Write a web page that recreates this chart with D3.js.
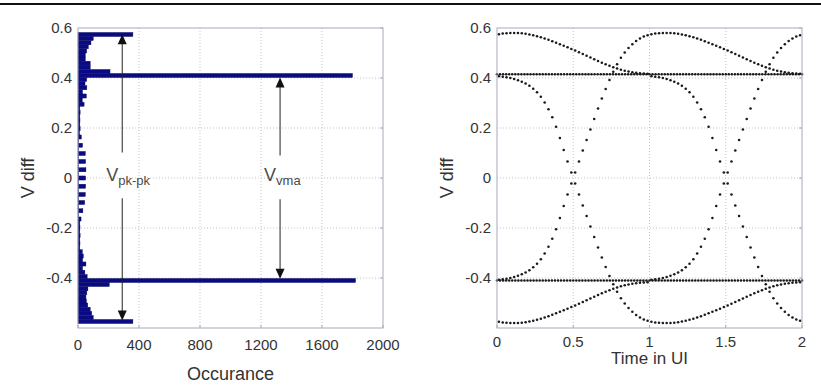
<!DOCTYPE html>
<html>
<head>
<meta charset="utf-8">
<script src="https://cdn.jsdelivr.net/npm/d3@7/dist/d3.min.js"></script>
<style>
  body { margin: 0; background: #fff; }
  text { font-family: "Liberation Sans", Arial, sans-serif; }
</style>
</head>
<body>
<svg id="chart" width="821" height="386"></svg>
<script>
// ---- data: histogram of V diff (left) ----
const binWidth = 0.0164;
const binCenters = [
  -0.574, -0.558, -0.541, -0.525, -0.508, -0.492, -0.476, -0.459, -0.443, -0.426,
  -0.410, -0.394, -0.377, -0.361, -0.344, -0.328, -0.312, -0.295, -0.279, -0.262,
  -0.246, -0.230, -0.213, -0.197, -0.180, -0.164, -0.148, -0.131, -0.115, -0.098,
  -0.082, -0.066, -0.049, -0.033, -0.016, 0,
  0.016, 0.033, 0.049, 0.066, 0.082, 0.098, 0.115, 0.131, 0.148, 0.164,
  0.180, 0.197, 0.213, 0.230, 0.246, 0.262, 0.279, 0.295, 0.312, 0.328,
  0.344, 0.361, 0.377, 0.394, 0.410, 0.426, 0.443, 0.459, 0.476, 0.492,
  0.508, 0.525, 0.541, 0.558, 0.574
];
const binCounts = [
  360, 100, 90, 80, 64, 55, 52, 58, 65, 205,
  1820, 60, 45, 30, 52, 30, 35, 28, 12, 13,
  12, 14, 12, 13, 12, 20, 4, 32, 4, 44,
  4, 48, 4, 50, 4, 50,
  4, 52, 4, 50, 4, 48, 4, 30, 4, 22,
  10, 14, 12, 13, 12, 14, 12, 40, 28, 55,
  30, 58, 46, 57, 1800, 210, 80, 80, 48, 48,
  57, 68, 85, 100, 360
];

// ---- data: eye diagram (right) ----
// rising edge, 40 samples per UI, from 0.5 UI before to 1.5 UI after the zero crossing
const samplesPerUI = 40;
const riseEdge = [
  -0.407, -0.405, -0.403, -0.400, -0.396, -0.391, -0.385, -0.378, -0.369, -0.357,
  -0.343, -0.325, -0.302, -0.275, -0.243, -0.205, -0.160, -0.112, -0.066, -0.022,
  0.022, 0.066, 0.110, 0.152, 0.194, 0.236, 0.278, 0.318, 0.356, 0.392,
  0.425, 0.455, 0.481, 0.502, 0.520, 0.535, 0.548, 0.558, 0.566, 0.571,
  0.575, 0.578, 0.579, 0.580, 0.580, 0.580, 0.579, 0.577, 0.574, 0.571,
  0.567, 0.563, 0.558, 0.553, 0.547, 0.541, 0.535, 0.529, 0.523, 0.516,
  0.510, 0.503, 0.496, 0.489, 0.482, 0.475, 0.468, 0.461, 0.455, 0.449,
  0.443, 0.438, 0.433, 0.429, 0.426, 0.423, 0.421, 0.419, 0.418, 0.417
];
const crossings = [-0.5, 0.5, 1.5];     // zero crossings in UI
const settledLevels = [0.415, -0.41];   // flat high / low traces

// ---- axes ticks ----
const vTicks = [-0.4, -0.2, 0, 0.2, 0.4, 0.6];
const countTicks = [0, 400, 800, 1200, 1600, 2000];
const timeTicks = [0, 0.5, 1, 1.5, 2];

const svg = d3.select("#chart");
const plotTop = 28, plotBottom = 328;
const boxColor = "#a9a9bb", gridColor = "#c4c4c4", textColor = "#333";

// top rule
svg.append("line")
  .attr("x1", 0).attr("x2", 821).attr("y1", 4).attr("y2", 4)
  .attr("stroke", "#111").attr("stroke-width", 2);

const y = d3.scaleLinear().domain([-0.6, 0.6]).range([plotBottom, plotTop]);

function frame(g, x, xTicks, tickBaseline) {
  const [x0, x1] = x.range();
  // dotted grid
  g.append("g").selectAll("line").data(xTicks.slice(1, -1)).join("line")
    .attr("x1", d => x(d)).attr("x2", d => x(d)).attr("y1", plotTop).attr("y2", plotBottom)
    .attr("stroke", gridColor).attr("stroke-dasharray", "1,2");
  g.append("g").selectAll("line").data(vTicks.slice(0, -1)).join("line")
    .attr("x1", x0).attr("x2", x1).attr("y1", d => y(d)).attr("y2", d => y(d))
    .attr("stroke", gridColor).attr("stroke-dasharray", "1,2");
  // tick labels (plain hyphen minus, as in the original)
  g.append("g").selectAll("text").data(vTicks).join("text")
    .attr("x", x0 - 6).attr("y", d => y(d)).attr("dy", "0.36em")
    .attr("text-anchor", "end").attr("font-size", 15).attr("fill", textColor)
    .text(d => String(d));
  g.append("g").selectAll("text").data(xTicks).join("text")
    .attr("x", d => x(d)).attr("y", tickBaseline)
    .attr("text-anchor", "middle").attr("font-size", 15).attr("fill", textColor)
    .text(d => String(d));
  // y label
  g.append("text")
    .attr("transform", `translate(${x0 - 50},${(plotTop + plotBottom) / 2}) rotate(-90)`)
    .attr("dy", "0.35em")
    .attr("text-anchor", "middle").attr("font-size", 18).attr("fill", textColor)
    .text("V diff");
}

function box(g, x, xTicks) {
  const [x0, x1] = x.range();
  g.append("rect")
    .attr("x", x0).attr("y", plotTop).attr("width", x1 - x0).attr("height", plotBottom - plotTop)
    .attr("fill", "none").attr("stroke", boxColor);
  // inward ticks
  g.append("g").selectAll("line").data(vTicks).join("line")
    .attr("x1", x1).attr("x2", x1 - 3).attr("y1", d => y(d)).attr("y2", d => y(d))
    .attr("stroke", boxColor);
  g.append("g").selectAll("line").data(xTicks).join("line")
    .attr("x1", d => x(d)).attr("x2", d => x(d)).attr("y1", plotBottom).attr("y2", plotBottom - 3)
    .attr("stroke", boxColor);
}

// ===== left: histogram =====
const xL = d3.scaleLinear().domain([0, 2000]).range([78, 383]);
const gL = svg.append("g");
frame(gL, xL, countTicks, 350);

gL.append("g").selectAll("rect").data(binCenters).join("rect")
  .attr("x", xL(0))
  .attr("y", d => y(d + binWidth / 2))
  .attr("width", (d, i) => xL(binCounts[i]) - xL(0))
  .attr("height", d => y(d - binWidth / 2) - y(d + binWidth / 2))
  .attr("fill", "#0a0a82")
  .attr("stroke", "#0a0a60").attr("stroke-width", 0.4);

gL.append("text")
  .attr("x", (xL.range()[0] + xL.range()[1]) / 2).attr("y", 380)
  .attr("text-anchor", "middle").attr("font-size", 18).attr("fill", textColor)
  .text("Occurance");

// annotation arrows
const arrows = [
  { x: 290, from: 0.575, to: -0.570, labelAt: 0, gapTop: 0.102, gapBottom: -0.081, main: "V", sub: "pk-pk" },
  { x: 1325, from: 0.402, to: -0.403, labelAt: 0, gapTop: 0.09, gapBottom: -0.085, main: "V", sub: "vma" }
];
arrows.forEach(a => {
  const ax = xL(a.x);
  gL.append("line").attr("x1", ax).attr("x2", ax)
    .attr("y1", y(a.from) + 9).attr("y2", y(a.gapTop))
    .attr("stroke", "#222").attr("stroke-width", 1);
  gL.append("line").attr("x1", ax).attr("x2", ax)
    .attr("y1", y(a.gapBottom)).attr("y2", y(a.to) - 9)
    .attr("stroke", "#222").attr("stroke-width", 1);
  const yt = y(a.from), yb = y(a.to);
  gL.append("path").attr("d", `M${ax},${yt} L${ax - 4.5},${yt + 10} L${ax + 4.5},${yt + 10} Z`).attr("fill", "#111");
  gL.append("path").attr("d", `M${ax},${yb} L${ax - 4.5},${yb - 10} L${ax + 4.5},${yb - 10} Z`).attr("fill", "#111");
  const t = gL.append("text")
    .attr("x", ax - 16).attr("y", y(a.labelAt) + 3)
    .attr("font-size", 18).attr("fill", "#4a4a4a");
  t.append("tspan").text(a.main);
  t.append("tspan").attr("font-size", 13).attr("dy", 4).text(a.sub);
});

box(gL, xL, countTicks);

// ===== right: eye diagram =====
const xR = d3.scaleLinear().domain([0, 2]).range([497, 802]);
const gR = svg.append("g");
frame(gR, xR, timeTicks, 347);

gR.append("text")
  .attr("x", (xR.range()[0] + xR.range()[1]) / 2).attr("y", 364)
  .attr("text-anchor", "middle").attr("font-size", 17).attr("fill", textColor)
  .text("Time in UI");

const dots = [];
settledLevels.forEach(level => {
  d3.range(0, 2.0001, 0.02).forEach(t => dots.push([t, level]));
});
crossings.forEach(c => {
  riseEdge.forEach((v, k) => {
    const t = c - 0.5 + (k + 0.5) / samplesPerUI;
    if (t < 0 || t > 2) return;
    dots.push([t, v]);      // rising edge
    dots.push([t, -v]);     // falling edge
  });
});

gR.append("g").selectAll("circle").data(dots).join("circle")
  .attr("cx", d => xR(d[0])).attr("cy", d => y(d[1]))
  .attr("r", 1.3).attr("fill", "#1a1a1a");

box(gR, xR, timeTicks);
</script>
</body>
</html>
